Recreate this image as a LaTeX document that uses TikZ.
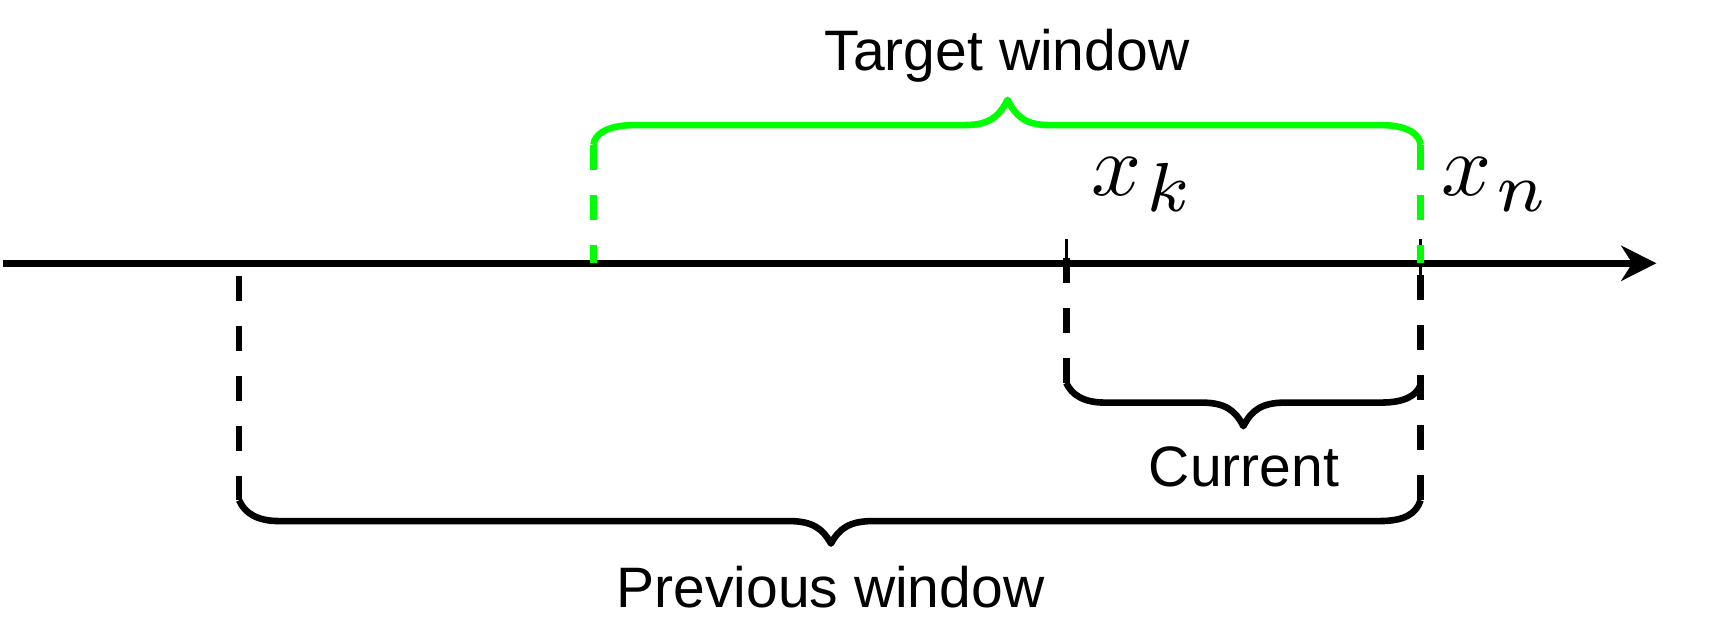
\documentclass[tikz,border=0pt]{standalone}
\usepackage[no-math]{fontspec}
\setmainfont{Liberation Sans}
\usetikzlibrary{arrows.meta}
\definecolor{brightgreen}{RGB}{0,255,0}
\tikzset{
  axisline/.style={line width=6.1pt, -{Stealth[length=32pt,width=32pt,inset=10pt]}},
  bracestyle/.style={line width=6pt, line join=round},
  dashline/.style={line width=6.1pt, dash pattern=on 22.8pt off 22.8pt},
  tickline/.style={line width=2.7pt},
  lbl/.style={font=\fontsize{52}{60}\selectfont, inner sep=0pt, anchor=base},
  mathlbl/.style={inner sep=0pt, anchor=base west, scale=8},
}
\newcommand{\mysub}[2]{$#1\kern0.5pt\raisebox{-1.9pt}{\scalebox{1.13}{$\scriptstyle #2$}}$}
\begin{document}
\begin{tikzpicture}[x=1pt,y=-1pt]
\useasboundingbox (0,0) rectangle (1568,579);
% key points
\coordinate (axL) at (3,240);
\coordinate (axR) at (1510,240);
\coordinate (tkTop) at (972,218);
\coordinate (tkBot) at (972,255);
\coordinate (tnTop) at (1295,218);
\coordinate (tnBot) at (1295,255);
\coordinate (gL) at (541,132);
\coordinate (gLb) at (541,240);
\coordinate (gR) at (1295,132);
\coordinate (gRb) at (1295,240);
\coordinate (pLt) at (218,251.5);
\coordinate (pL) at (218,456);
\coordinate (pRt) at (1295,250.7);
\coordinate (pR) at (1295,456);
\coordinate (cLt) at (972,235);
\coordinate (cL) at (972,349);
\coordinate (cR) at (1295,351);
% axis
\draw[axisline] (axL) -- (axR);
% ticks
\draw[tickline] (tkTop) -- (tkBot);
\draw[tickline] (tnTop) -- (tnBot);
% black dashed
\draw[dashline] (pLt) -- (pL);
\draw[dashline] (pRt) -- (pR);
\draw[dashline] (cLt) -- (cL);
% green dashed
\draw[dashline, brightgreen] (gL) -- (gLb);
\draw[dashline, brightgreen] (gR) -- (gRb);
% target window brace
\draw[bracestyle, brightgreen] (gL) .. controls (542,122) and (554,114) .. (579,114)
  -- (880,114) .. controls (902,114) and (911,106) .. (918.5,91)
  .. controls (926,106) and (935,114) .. (956,114) -- (1258,114)
  .. controls (1283,114) and (1294,122) .. (gR);
% current brace
\draw[bracestyle] (cL) .. controls (977,360) and (988,367) .. (1007,367)
  -- (1095,367) .. controls (1117,367) and (1126,374) .. (1133.5,388.5)
  .. controls (1141,374) and (1150,367) .. (1172,367) -- (1259,367)
  .. controls (1280,367) and (1291,361) .. (cR);
% previous brace
\draw[bracestyle] (pL) .. controls (223,468) and (235,475) .. (254,475)
  -- (719,475) .. controls (741,475) and (750,482) .. (757.5,495.5)
  .. controls (765,482) and (774,475) .. (796,475) -- (1258,475)
  .. controls (1279,475) and (1291,469) .. (pR);
% labels
\node[lbl] (target) at (918,64) {Target window};
\node[lbl] (current) at (1134,443.6) {Current};
\node[lbl] (previous) at (757,554) {Previous window};
\node[mathlbl] (xk) at (993.5,178) {\mysub{x}{k}};
\node[mathlbl] (xn) at (1312.5,178) {\mysub{x}{n}};
\end{tikzpicture}
\end{document}
